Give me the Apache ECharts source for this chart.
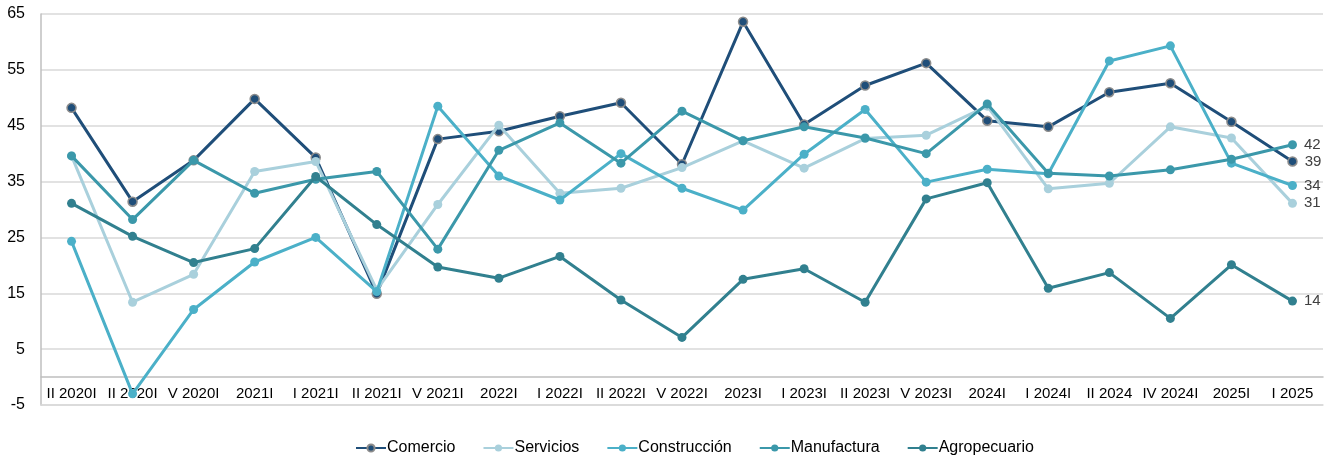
<!DOCTYPE html>
<html>
<head>
<meta charset="utf-8">
<script src="https://cdn.jsdelivr.net/npm/echarts@6/dist/echarts.min.js"></script>
<style>
html,body{margin:0;padding:0;background:#fff;}
#chart{width:1328px;height:459px;}
</style>
</head>
<body>
<div id="chart"></div>
<script>
const categories = ["II 2020I","II 2020I","V 2020I","2021I","I 2021I","II 2021I","V 2021I","2022I","I 2022I","II 2022I","V 2022I","2023I","I 2023I","II 2023I","V 2023I","2024I","I 2024I","II 2024","IV 2024I","2025I","I 2025"];
const comercio     = [48.2,31.4,38.8,49.8,39.3,14.9,42.6,44.0,46.7,49.1,38.1,63.6,45.2,52.2,56.2,45.9,44.8,51.0,52.6,45.7,38.6];
const servicios    = [39.6,13.4,18.4,36.8,38.6,15.6,30.9,45.1,32.9,33.8,37.5,42.3,37.4,42.7,43.3,48.5,33.7,34.7,44.8,42.8,31.1];
const construccion = [24.3,-3.0,12.1,20.6,25.0,15.3,48.5,36.0,31.7,40.0,33.8,29.9,39.9,47.9,34.9,37.2,36.4,56.6,59.3,38.3,34.3];
const manufactura  = [39.6,28.2,38.8,32.9,35.4,36.8,22.9,40.6,45.5,38.3,47.6,42.3,44.8,42.8,40.0,48.9,36.5,36.0,37.1,39.0,41.6];
const agropecuario = [31.1,25.2,20.5,23.0,35.9,27.3,19.7,17.7,21.6,13.8,7.1,17.5,19.4,13.4,31.9,34.8,15.9,18.7,10.5,20.1,13.6];
const yTicks = { min: -5, max: 65, interval: 10 };

const FONT = "Liberation Sans, Arial, sans-serif";
function mk(name, data, color, opts) {
  opts = opts || {};
  return {
    name: name,
    type: 'line',
    data: data.map(function (v, i) {
      if (i === data.length - 1) {
        return { value: v, label: { show: true, position: 'right', distance: 7, formatter: function (p) { return Math.round(p.value); }, color: '#404040', fontSize: 15, fontFamily: FONT } };
      }
      return v;
    }),
    symbol: 'circle',
    symbolSize: opts.symbolSize || 9,
    showAllSymbol: true,
    lineStyle: { color: color, width: 3 },
    itemStyle: { color: color, borderColor: opts.border || color, borderWidth: opts.borderWidth || 0 },
    emphasis: { disabled: true },
    z: opts.z || 2
  };
}

const chart = echarts.init(document.getElementById('chart'), null, { renderer: 'canvas' });
chart.setOption({
  animation: false,
  textStyle: { fontFamily: FONT },
  grid: { left: 41, right: 5, top: 14, bottom: 54, containLabel: false },
  xAxis: [{
    type: 'category',
    data: categories,
    boundaryGap: true,
    offset: -28,
    axisLine: { show: true, onZero: false, lineStyle: { color: '#bfbfbf', width: 1.5 } },
    axisTick: { show: false },
    axisLabel: { interval: 0, color: '#000', fontSize: 15, margin: 9, fontFamily: FONT },
    splitLine: { show: false }
  }, {
    type: 'category',
    data: categories,
    position: 'bottom',
    offset: 0,
    boundaryGap: true,
    axisLine: { show: true, onZero: false, lineStyle: { color: '#d9d9d9', width: 1.5 } },
    axisTick: { show: false },
    axisLabel: { show: false },
    splitLine: { show: false }
  }],
  yAxis: {
    type: 'value',
    min: yTicks.min, max: yTicks.max, interval: yTicks.interval,
    axisLine: { show: true, lineStyle: { color: '#bfbfbf', width: 1.5 } },
    axisTick: { show: false },
    axisLabel: { color: '#000', fontSize: 16, margin: 16, fontFamily: FONT },
    splitLine: { show: true, showMinLine: true, showMaxLine: true, lineStyle: { color: '#d9d9d9', width: 1.5 } }
  },
  legend: {
    top: 435,
    left: 350,
    itemWidth: 30,
    itemHeight: 9,
    itemGap: 27,
    textStyle: { color: '#000', fontSize: 16, fontFamily: FONT, padding: [0, 0, 0, -4] },
    data: ['Comercio','Servicios','Construcción','Manufactura','Agropecuario']
  },
  series: [
    mk('Comercio', comercio, '#1f4e79', { border: '#8c8c8c', borderWidth: 1.5, symbolSize: 9, z: 2 }),
    mk('Servicios', servicios, '#a9d0dc', { z: 3 }),
    mk('Construcción', construccion, '#4bb0c8', { z: 4 }),
    mk('Manufactura', manufactura, '#3b98aa', { z: 5 }),
    mk('Agropecuario', agropecuario, '#31808f', { z: 6 })
  ]
});
</script>
</body>
</html>
